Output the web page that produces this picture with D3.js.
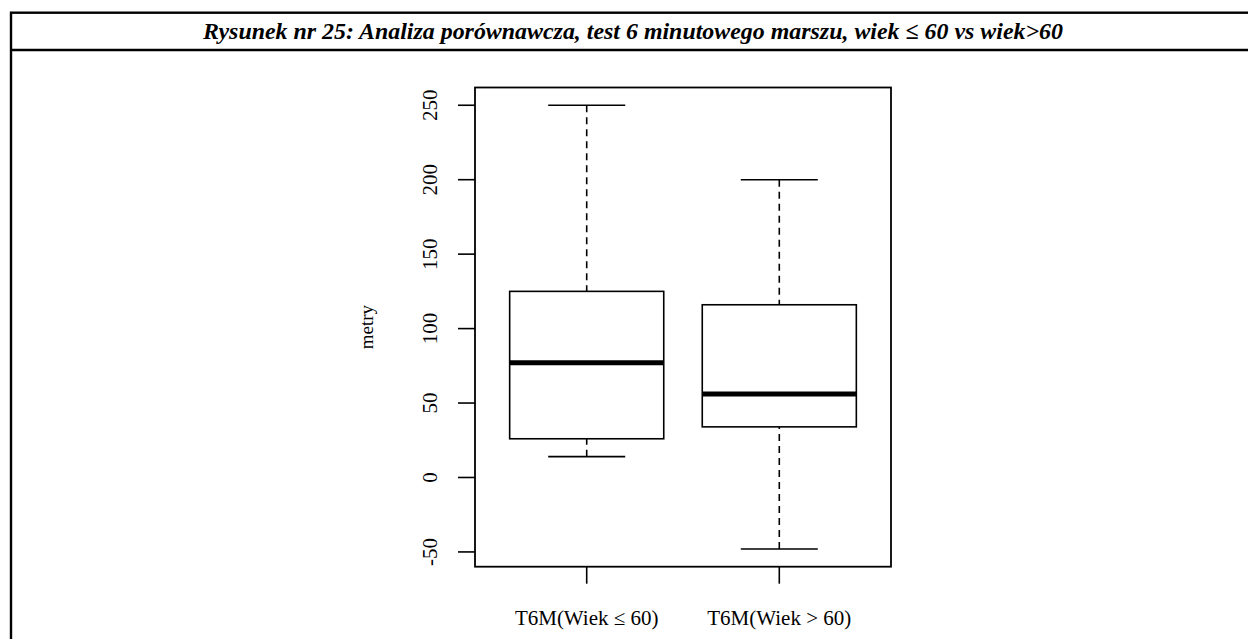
<!DOCTYPE html>
<html>
<head>
<meta charset="utf-8">
<script src="https://cdnjs.cloudflare.com/ajax/libs/d3/7.8.5/d3.min.js"></script>
<style>
body { margin: 0; background: #fff; }
svg { display: block; }
.serif { font-family: "Liberation Serif", "DejaVu Serif", serif; }
</style>
</head>
<body>
<div id="chart"></div>
<script>
var title = "Rysunek nr 25: Analiza porównawcza, test 6 minutowego marszu, wiek ≤ 60 vs wiek>60";
var yLabel = "metry";
var categories = ["T6M(Wiek ≤ 60)", "T6M(Wiek > 60)"];
var whiskerLow = [14, -48];
var q1 = [26, 34];
var median = [77, 56];
var q3 = [125, 116];
var whiskerHigh = [250, 200];

var width = 1248, height = 639;
var plot = { left: 475, right: 891, top: 87.5, bottom: 566.7 };

var svg = d3.select("#chart").append("svg")
    .attr("width", width)
    .attr("height", height);

// outer frame with the title row
svg.append("rect")
    .attr("x", 11).attr("y", 12.7)
    .attr("width", 1245).attr("height", 660)
    .attr("fill", "none").attr("stroke", "#000").attr("stroke-width", 2.4);
svg.append("line")
    .attr("x1", 11).attr("x2", 1256).attr("y1", 50).attr("y2", 50)
    .attr("stroke", "#000").attr("stroke-width", 2.4);
svg.append("text")
    .attr("class", "serif")
    .attr("x", 633).attr("y", 39)
    .attr("text-anchor", "middle")
    .attr("textLength", 860)
    .attr("lengthAdjust", "spacingAndGlyphs")
    .style("font-size", "24px")
    .style("font-weight", "bold")
    .style("font-style", "italic")
    .text(title);

var lo = d3.min(whiskerLow), hi = d3.max(whiskerHigh), ext = (hi - lo) * 0.04;
var y = d3.scaleLinear().domain([lo - ext, hi + ext]).range([plot.bottom, plot.top]);
var x = d3.scaleLinear().domain([0.42, categories.length + 0.58]).range([plot.left, plot.right]);
var boxHalf = 0.4, capHalf = 0.2;

var data = categories.map(function (c, i) {
    return { name: c, pos: i + 1, lo: whiskerLow[i], q1: q1[i], med: median[i], q3: q3[i], hi: whiskerHigh[i] };
});

var g = svg.append("g");

// whiskers
g.selectAll(".wh-up").data(data).enter().append("line")
    .attr("x1", function (d) { return x(d.pos); })
    .attr("x2", function (d) { return x(d.pos); })
    .attr("y1", function (d) { return y(d.hi); })
    .attr("y2", function (d) { return y(d.q3); })
    .attr("stroke", "#000").attr("stroke-width", 1.6).attr("stroke-dasharray", "7,5");
g.selectAll(".wh-dn").data(data).enter().append("line")
    .attr("x1", function (d) { return x(d.pos); })
    .attr("x2", function (d) { return x(d.pos); })
    .attr("y1", function (d) { return y(d.lo); })
    .attr("y2", function (d) { return y(d.q1); })
    .attr("stroke", "#000").attr("stroke-width", 1.6).attr("stroke-dasharray", "7,5");

// caps
["hi", "lo"].forEach(function (k) {
    g.selectAll(".cap-" + k).data(data).enter().append("line")
        .attr("x1", function (d) { return x(d.pos - capHalf); })
        .attr("x2", function (d) { return x(d.pos + capHalf); })
        .attr("y1", function (d) { return y(d[k]); })
        .attr("y2", function (d) { return y(d[k]); })
        .attr("stroke", "#000").attr("stroke-width", 1.6);
});

// boxes
g.selectAll(".box").data(data).enter().append("rect")
    .attr("x", function (d) { return x(d.pos - boxHalf); })
    .attr("width", function (d) { return x(d.pos + boxHalf) - x(d.pos - boxHalf); })
    .attr("y", function (d) { return y(d.q3); })
    .attr("height", function (d) { return y(d.q1) - y(d.q3); })
    .attr("fill", "#fff").attr("stroke", "#000").attr("stroke-width", 1.6);

g.selectAll(".med").data(data).enter().append("line")
    .attr("x1", function (d) { return x(d.pos - boxHalf); })
    .attr("x2", function (d) { return x(d.pos + boxHalf); })
    .attr("y1", function (d) { return y(d.med); })
    .attr("y2", function (d) { return y(d.med); })
    .attr("stroke", "#000").attr("stroke-width", 5);

// plot box
svg.append("rect")
    .attr("x", plot.left).attr("y", plot.top)
    .attr("width", plot.right - plot.left).attr("height", plot.bottom - plot.top)
    .attr("fill", "none").attr("stroke", "#000").attr("stroke-width", 1.8);

// y axis
var yTicks = y.ticks(7);
svg.selectAll(".ytick").data(yTicks).enter().append("line")
    .attr("x1", plot.left - 17).attr("x2", plot.left)
    .attr("y1", function (d) { return y(d); })
    .attr("y2", function (d) { return y(d); })
    .attr("stroke", "#000").attr("stroke-width", 1.6);
svg.selectAll(".ylab").data(yTicks).enter().append("text")
    .attr("class", "serif")
    .attr("transform", function (d) { return "translate(437," + y(d) + ") rotate(-90)"; })
    .attr("text-anchor", "middle")
    .style("font-size", "21px")
    .text(function (d) { return d; });

svg.append("text")
    .attr("class", "serif")
    .attr("transform", "translate(373," + (plot.top + plot.bottom) / 2 + ") rotate(-90)")
    .attr("text-anchor", "middle")
    .style("font-size", "19px")
    .text(yLabel);

// x axis
svg.selectAll(".xtick").data(data).enter().append("line")
    .attr("x1", function (d) { return x(d.pos); })
    .attr("x2", function (d) { return x(d.pos); })
    .attr("y1", plot.bottom).attr("y2", plot.bottom + 17)
    .attr("stroke", "#000").attr("stroke-width", 1.6);
svg.selectAll(".xlab").data(data).enter().append("text")
    .attr("class", "serif")
    .attr("x", function (d) { return x(d.pos); })
    .attr("y", 625)
    .attr("text-anchor", "middle")
    .style("font-size", "21px")
    .text(function (d) { return d.name; });
</script>
</body>
</html>
